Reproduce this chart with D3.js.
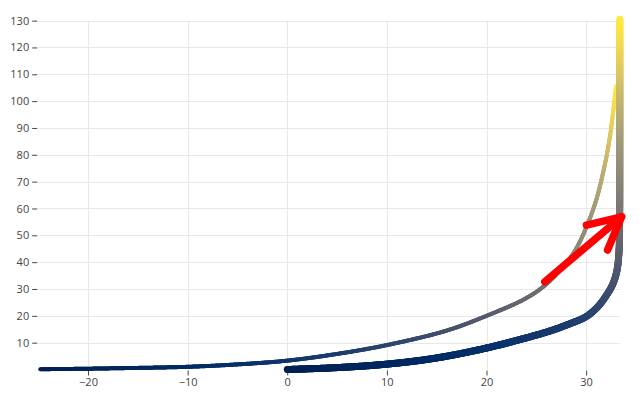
<!DOCTYPE html>
<html>
<head>
<meta charset="utf-8">
<script src="https://cdn.jsdelivr.net/npm/d3@7"></script>
<style>
body { margin: 0; background: #fff; }
text { font-family: "Open Sans", sans-serif; font-size: 11px; fill: #444; }
</style>
</head>
<body>
<div id="viz"></div>
<script>
var xTicks = [-20, -10, 0, 10, 20, 30];
var yTicks = [10, 20, 30, 40, 50, 60, 70, 80, 90, 100, 110, 120, 130];

// thin curve: x, y and time (0..1, shown as colour)
var curveAx = [-24.8, -20, -15, -10, -5, 0, 5, 10, 16, 20, 24, 26, 28, 29, 30, 31, 31.8, 32.4, 33];
var curveAy = [0.1, 0.3, 0.6, 1.0, 1.9, 3.3, 5.8, 9.1, 14.5, 20, 26.6, 31.8, 39.6, 45, 52.8, 63, 75, 87, 105.5];
var curveAt = [0, 0.02, 0.04, 0.06, 0.09, 0.12, 0.16, 0.2, 0.27, 0.33, 0.4, 0.45, 0.52, 0.56, 0.6, 0.67, 0.76, 0.85, 1];

// thick curve
var curveBx = [0, 5, 10, 15, 20, 24, 26.4, 28.4, 30, 31.2, 32.1, 32.7, 33.1, 33.3, 33.36, 33.38, 33.38];
var curveBy = [0, 0.7, 2, 4.3, 8, 11.8, 14.4, 17.1, 19.7, 23.5, 28, 32, 37, 44, 55, 80, 130.5];
var curveBt = [0, 0.02, 0.04, 0.06, 0.09, 0.12, 0.14, 0.16, 0.18, 0.21, 0.24, 0.27, 0.3, 0.35, 0.43, 0.61, 1];

// annotation arrow: start, tip
var arrowFrom = [25.85, 32.7];
var arrowTo = [33.55, 56.9];

var width = 640, height = 400;

var svg = d3.select("#viz")
    .append("svg")
    .attr("width", width)
    .attr("height", height);

var x = d3.scaleLinear().domain([-25, 33.4]).range([38.2, 620]);
var y = d3.scaleLinear().domain([0, 130]).range([369.5, 20.6]);
var color = d3.scaleSequential(d3.interpolateCividis).domain([0, 1]);

// grid
svg.append("g").selectAll("line")
    .data(xTicks)
    .enter().append("line")
    .attr("x1", function(d) { return Math.round(x(d)) + 0.5; })
    .attr("x2", function(d) { return Math.round(x(d)) + 0.5; })
    .attr("y1", y(130))
    .attr("y2", y(0))
    .style("stroke", "#e8e8e8");

svg.append("g").selectAll("line")
    .data(yTicks)
    .enter().append("line")
    .attr("x1", x.range()[0])
    .attr("x2", x.range()[1])
    .attr("y1", function(d) { return Math.round(y(d)) + 0.5; })
    .attr("y2", function(d) { return Math.round(y(d)) + 0.5; })
    .style("stroke", "#e8e8e8");

// axes, no domain line
var xAxis = svg.append("g")
    .attr("transform", "translate(0," + (y(0) + 1) + ")")
    .call(d3.axisBottom(x).tickValues(xTicks).tickSize(5).tickPadding(3));
var yAxis = svg.append("g")
    .attr("transform", "translate(" + (x.range()[0] - 1) + ",0)")
    .call(d3.axisLeft(y).tickValues(yTicks).tickSize(5).tickPadding(3));
[xAxis, yAxis].forEach(function(a) {
    a.select(".domain").remove();
    a.selectAll(".tick line").style("stroke", "#444");
    a.selectAll("text").attr("font-family", null).attr("font-size", null).style("fill", "#444");
});

// stroke whose colour follows time along the curve
function gradientLine(xs, ys, ts, w) {
    var pts = xs.map(function(d, i) { return [x(d), y(ys[i])]; });
    var path = svg.append("path")
        .attr("d", d3.line().curve(d3.curveCatmullRom.alpha(0.5))(pts))
        .style("fill", "none")
        .style("stroke", "none");
    var node = path.node(), len = node.getTotalLength();
    var n = Math.ceil(len), samples = [];
    for (var i = 0; i <= n; i++) {
        var p = node.getPointAtLength(len * i / n);
        samples.push([p.x, p.y]);
    }
    // where each data point sits along the samples
    var idx = [], k = 0;
    pts.forEach(function(p) {
        var best = k, bd = Infinity;
        for (var s = k; s < samples.length; s++) {
            var d = Math.hypot(samples[s][0] - p[0], samples[s][1] - p[1]);
            if (d < bd) { bd = d; best = s; }
            if (d > bd + 15) break;
        }
        idx.push(best);
        k = best;
    });
    idx[0] = 0;
    idx[idx.length - 1] = n;
    var tAt = d3.scaleLinear().domain(idx).range(ts);
    var segs = d3.range(n);
    svg.append("g").selectAll("line")
        .data(segs)
        .enter().append("line")
        .attr("x1", function(s) { return samples[s][0]; })
        .attr("y1", function(s) { return samples[s][1]; })
        .attr("x2", function(s) { return samples[s + 1][0]; })
        .attr("y2", function(s) { return samples[s + 1][1]; })
        .style("stroke", function(s) { return color(tAt(s + 0.5)); })
        .style("stroke-width", w)
        .style("stroke-linecap", "round");
    path.remove();
}

gradientLine(curveAx, curveAy, curveAt, 4);
gradientLine(curveBx, curveBy, curveBt, 7);

// red arrow
var ax0 = x(arrowFrom[0]), ay0 = y(arrowFrom[1]);
var ax1 = x(arrowTo[0]), ay1 = y(arrowTo[1]);
var ang = Math.atan2(ay0 - ay1, ax0 - ax1);
var headLen = 36, spread = 27 * Math.PI / 180;
var head = [
    [ax1 + headLen * Math.cos(ang - spread), ay1 + headLen * Math.sin(ang - spread)],
    [ax1, ay1],
    [ax1 + headLen * Math.cos(ang + spread), ay1 + headLen * Math.sin(ang + spread)]
];
svg.append("line")
    .attr("x1", ax0).attr("y1", ay0)
    .attr("x2", ax1).attr("y2", ay1)
    .style("stroke", "#ff0000")
    .style("stroke-width", 7.5)
    .style("stroke-linecap", "round");
svg.append("path")
    .attr("d", d3.line()(head))
    .style("fill", "none")
    .style("stroke", "#ff0000")
    .style("stroke-width", 7.5)
    .style("stroke-linecap", "round")
    .style("stroke-linejoin", "round");
</script>
</body>
</html>
